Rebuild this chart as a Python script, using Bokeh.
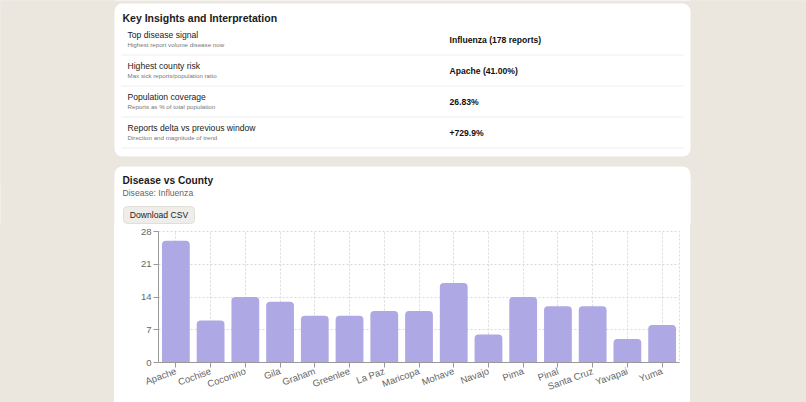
from bokeh.plotting import figure
from bokeh.layouts import column, row
from bokeh.models import Range1d, FixedTicker, ColumnDataSource, Spacer
from bokeh.core.properties import value
from bokeh.embed import file_html
from bokeh.resources import INLINE

# ---------------- data ----------------
counties = ["Apache", "Cochise", "Coconino", "Gila", "Graham", "Greenlee", "La Paz",
            "Maricopa", "Mohave", "Navajo", "Pima", "Pinal", "Santa Cruz", "Yavapai", "Yuma"]
influenza_reports = [26, 9, 14, 13, 10, 10, 11, 11, 17, 6, 14, 12, 12, 5, 8]
y_ticks = [0, 7, 14, 21, 28]

panel_title = "Key Insights and Interpretation"
insight_labels = ["Top disease signal", "Highest county risk",
                  "Population coverage", "Reports delta vs previous window"]
insight_notes = ["Highest report volume disease now", "Max sick reports/population ratio",
                 "Reports as % of total population", "Direction and magnitude of trend"]
insight_values = ["Influenza (178 reports)", "Apache (41.00%)", "26.83%", "+729.9%"]

chart_title = "Disease vs County"
chart_subtitle = "Disease: Influenza"
button_text = "Download CSV"

# ---------------- style ----------------
FONT = "Liberation Sans"
BG = "#EBE7DF"
BAR = "#AEA8E5"
GRID = "#D9D9D9"
AXIS = "#999999"

TOP_H = 224   # height of the upper (page-layout) figure in pixels

# ---------------- upper figure: cards, insights, chart header ----------------
top = figure(width=806, height=TOP_H, x_range=Range1d(0, 806), y_range=Range1d(TOP_H, 0),
             output_backend="svg", toolbar_location=None, min_border=0,
             background_fill_color="white", border_fill_color="white", outline_line_color=None)
top.axis.visible = False
top.grid.visible = False

# page background (beige) around the cards
top.quad(left=[-10], right=[816], top=[-10], bottom=[180], fill_color=BG, line_color=None)
top.quad(left=[-10, 690], right=[114, 816], top=[-10, -10], bottom=[TOP_H + 10, TOP_H + 10],
         fill_color=BG, line_color=None)

# cards
top.quad(left=[114, 114], right=[690, 690], top=[3, 166], bottom=[156, TOP_H + 20],
         fill_color="white", line_color=None, border_radius=8)

def txt(x, y, s, size, color, bold=False, align="left"):
    top.text(x=[x], y=[y], text=[s], text_font=value(FONT), text_font_size=f"{size}px",
             text_color=color, text_font_style="bold" if bold else "normal",
             text_align=align, text_baseline="middle")

txt(122, 17.5, panel_title, 10.5, "#1a1a1a", bold=True)
for i, (lab, note, val) in enumerate(zip(insight_labels, insight_notes, insight_values)):
    y0 = 34 + 31 * i
    txt(127, y0, lab, 8.6, "#222222")
    txt(127, y0 + 10.3, note, 6.2, "#777777")
    txt(449, y0 + 5, val, 8.6, "#111111", bold=True)
    top.segment(x0=[121], x1=[683], y0=[y0 + 20.5], y1=[y0 + 20.5],
                line_color="#EEEEEE", line_width=1)

txt(122, 180, chart_title, 10.2, "#1a1a1a", bold=True)
txt(122, 192, chart_subtitle, 8.6, "#666666")
top.quad(left=[123], right=[194], top=[206], bottom=[223], fill_color="#EFEDE9",
         line_color="#E2DFD9", border_radius=4)
txt(158.5, 214.5, button_text, 8.6, "#222222", align="center")

# ---------------- chart figure ----------------
idx = list(range(len(counties)))
chart = figure(width=576, height=402 - TOP_H,
               x_range=Range1d(-0.5, len(counties) - 0.5),
               y_range=Range1d(0, 28),
               output_backend="svg", toolbar_location=None,
               min_border_left=44, min_border_right=11,
               min_border_top=7, min_border_bottom=40,
               background_fill_color="white", border_fill_color="white")

src = ColumnDataSource(dict(pos=idx, county=counties, reports=influenza_reports))
chart.vbar(x="pos", top="reports", width=0.8, source=src,
           fill_color=BAR, line_color=None, border_radius=(4, 4, 0, 0))

chart.xgrid.ticker = FixedTicker(ticks=idx)
chart.xgrid.grid_line_color = GRID
chart.xgrid.grid_line_dash = "2 2"
chart.ygrid.grid_line_color = GRID
chart.ygrid.grid_line_dash = "2 2"
chart.outline_line_color = GRID
chart.outline_line_dash = "2 2"

chart.yaxis.ticker = FixedTicker(ticks=y_ticks)
chart.xaxis.ticker = FixedTicker(ticks=idx)
chart.xaxis.major_label_overrides = {i: c for i, c in zip(idx, counties)}
for ax in (chart.xaxis[0], chart.yaxis[0]):
    ax.axis_line_color = AXIS
    ax.major_tick_line_color = AXIS
    ax.major_tick_in = 0
    ax.major_tick_out = 5
    ax.minor_tick_line_color = None
    ax.major_label_text_color = "#666666"
    ax.major_label_text_font = FONT
    ax.major_label_text_font_size = "9.5px"
chart.yaxis.major_label_standoff = 2
chart.xaxis.major_label_standoff = 3
chart.xaxis.major_label_orientation = 0.35

# page background behind the layout: beige margins, white card column
page_bg = (f"linear-gradient(to right, {BG} 0px, {BG} 114px, #ffffff 114px, "
           f"#ffffff 690px, {BG} 690px, {BG} 100%)")

left_pad = Spacer(width=114, height=402 - TOP_H, styles={"background-color": BG})
right_pad = Spacer(width=806 - 690, height=402 - TOP_H, styles={"background-color": BG})

bottom_row = row(left_pad, chart, right_pad, spacing=0, styles={"background": page_bg})
layout = column(top, bottom_row, spacing=0, styles={"background": page_bg})

open("out.html", "w").write(file_html(layout, INLINE))
